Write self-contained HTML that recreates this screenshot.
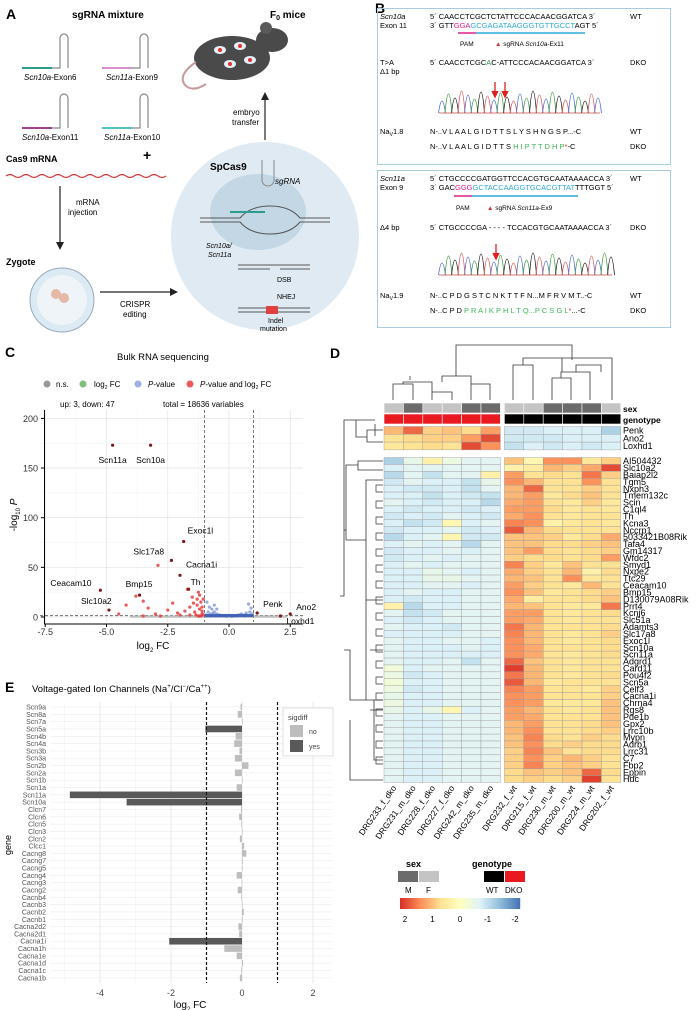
<!DOCTYPE html>
<html><head><meta charset="utf-8"><style>
html,body{margin:0;padding:0;background:#fff;}
svg{display:block;font-family:"Liberation Sans",sans-serif;}
</style></head><body>
<svg id="fig" width="696" height="1010" viewBox="0 0 696 1010" xmlns="http://www.w3.org/2000/svg">
<!-- ================= PANEL A ================= -->
<g>
<text x="6" y="19" font-size="14" font-weight="bold">A</text>
<text x="72" y="18" font-size="10" font-weight="bold">sgRNA mixture</text>
<g stroke-width="1.2" fill="none">
 <path d="M22 68 H60 V38 a4 4 0 0 1 8 0 V68" stroke="#888"/><line x1="22" y1="68" x2="52" y2="68" stroke="#2a9d8f" stroke-width="2"/>
 <path d="M102 68 H140 V38 a4 4 0 0 1 8 0 V68" stroke="#888"/><line x1="102" y1="68" x2="132" y2="68" stroke="#d98fd0" stroke-width="2"/>
 <path d="M22 128 H60 V98 a4 4 0 0 1 8 0 V128" stroke="#888"/><line x1="22" y1="128" x2="52" y2="128" stroke="#a0408f" stroke-width="2"/>
 <path d="M102 128 H140 V98 a4 4 0 0 1 8 0 V128" stroke="#888"/><line x1="102" y1="128" x2="132" y2="128" stroke="#4fc3c8" stroke-width="2"/>
</g>
<text x="24" y="80" font-size="8" font-style="italic">Scn10a<tspan font-style="normal">-Exon6</tspan></text>
<text x="106" y="80" font-size="8" font-style="italic">Scn11a<tspan font-style="normal">-Exon9</tspan></text>
<text x="22" y="140" font-size="8" font-style="italic">Scn10a<tspan font-style="normal">-Exon11</tspan></text>
<text x="104" y="140" font-size="8" font-style="italic">Scn11a<tspan font-style="normal">-Exon10</tspan></text>
<text x="6" y="162" font-size="9" font-weight="bold">Cas9 mRNA</text>
<text x="143" y="160" font-size="14" font-weight="bold">+</text>
<path d="M6 176 q4 -3 8 0 t8 0 t8 0 t8 0 t8 0 t8 0 t8 0 t8 0 t8 0 t8 0 t8 0 t8 0 t8 0 t8 0 t8 0 t8 0 t8 0 t8 0 t8 0 t8 0" stroke="#d43a3a" stroke-width="1.3" fill="none"/>
<line x1="60" y1="186" x2="60" y2="246" stroke="#222" stroke-width="1.2"/>
<path d="M56 242 L60 250 L64 242 Z" fill="#222"/>
<text x="68" y="205" font-size="8"><tspan x="76">mRNA</tspan><tspan x="68" dy="10">injection</tspan></text>
<text x="6" y="265" font-size="9" font-weight="bold">Zygote</text>
<circle cx="62" cy="300" r="32" fill="#dceaf3" stroke="#9ab"/>
<circle cx="62" cy="300" r="25" fill="#eef4f8"/>
<circle cx="56" cy="294" r="5" fill="#e6b8a8"/><circle cx="64" cy="298" r="5" fill="#e6b8a8"/>
<line x1="100" y1="292" x2="172" y2="292" stroke="#222" stroke-width="1.2"/>
<path d="M170 288 L178 292 L170 296 Z" fill="#222"/>
<text x="115" y="307" font-size="8"><tspan x="120">CRISPR</tspan><tspan x="123" dy="10">editing</tspan></text>
<circle cx="265" cy="236" r="94" fill="#dfeaf2"/>
<ellipse cx="258" cy="212" rx="48" ry="38" fill="#c3d7e5"/>
<text x="210" y="170" font-size="10" font-weight="bold">SpCas9</text>
<path d="M262 160 V180 a6 6 0 0 0 12 0 V160" stroke="#888" fill="none"/>
<text x="275" y="184" font-size="8" font-style="italic">sgRNA</text>
<path d="M200 218 H240 q10 -12 30 -12 q20 0 30 12 H330 M200 222 H240 q10 12 30 12 q20 0 30 -12 H330" stroke="#555" fill="none"/>
<line x1="230" y1="212" x2="265" y2="212" stroke="#2a9d8f" stroke-width="2"/>
<text x="208" y="248" font-size="7" font-style="italic"><tspan x="206">Scn10a/</tspan><tspan x="208" dy="9">Scn11a</tspan></text>
<line x1="238" y1="265" x2="310" y2="265" stroke="#555"/><line x1="238" y1="269" x2="270" y2="269" stroke="#555"/><line x1="280" y1="269" x2="310" y2="269" stroke="#555"/>
<text x="277" y="282" font-size="7">DSB</text>
<text x="277" y="299" font-size="7">NHEJ</text>
<line x1="238" y1="308" x2="310" y2="308" stroke="#555"/><line x1="238" y1="312" x2="310" y2="312" stroke="#555"/>
<rect x="266" y="306" width="12" height="8" fill="#e04040"/>
<text x="265" y="323" font-size="7"><tspan x="268">Indel</tspan><tspan x="260" dy="8">mutation</tspan></text>
<line x1="265" y1="140" x2="265" y2="96" stroke="#222" stroke-width="1.2"/>
<path d="M261 100 L265 92 L269 100 Z" fill="#222"/>
<text x="232" y="115" font-size="8"><tspan x="233">embryo</tspan><tspan x="232" dy="10">transfer</tspan></text>
<text x="270" y="18" font-size="10" font-weight="bold">F<tspan font-size="7" dy="2">0</tspan><tspan dy="-2"> mice</tspan></text>
<g>
 <ellipse cx="232" cy="58" rx="38" ry="22" fill="#4a4a4a"/>
 <ellipse cx="272" cy="40" rx="16" ry="12" fill="#4a4a4a"/>
 <circle cx="266" cy="28" r="6" fill="#5a5a5a"/>
 <path d="M196 62 q-20 14 -10 24 q8 6 20 -2" stroke="#c79a9a" stroke-width="2" fill="none"/>
 <ellipse cx="220" cy="50" rx="6" ry="4" fill="#e6eef6"/><ellipse cx="240" cy="46" rx="6" ry="4" fill="#e6eef6"/><ellipse cx="230" cy="64" rx="6" ry="4" fill="#e6eef6"/><ellipse cx="250" cy="60" rx="6" ry="4" fill="#e6eef6"/>
 <circle cx="220" cy="50" r="2" fill="#d33"/><circle cx="240" cy="46" r="2" fill="#d33"/><circle cx="230" cy="64" r="2" fill="#d33"/><circle cx="250" cy="60" r="2" fill="#d33"/>
</g>
</g>

<!-- ================= PANEL B ================= -->
<g font-size="7.5">
<text x="375" y="13" font-size="14" font-weight="bold">B</text>
<rect x="377.5" y="8.5" width="293" height="156" fill="none" stroke="#a8cde0"/>
<text x="380" y="19" font-style="italic">Scn10a</text>
<text x="380" y="28">Exon 11</text>
<text x="430" y="19">5´ CAACCTCGCTCTATTCCCACAACGGATCA 3´</text>
<text x="430" y="28">3´ GTT<tspan fill="#e0208a">GGA</tspan><tspan fill="#2fa8d8">GCGAGATAAGGGTGTTGCCT</tspan>AGT 5´</text>
<text x="630" y="19">WT</text>
<line x1="458" y1="33" x2="476" y2="33" stroke="#e0208a" stroke-width="1.5"/><line x1="476" y1="33" x2="585" y2="33" stroke="#2fa8d8" stroke-width="1.5"/>
<text x="460" y="46" font-size="6.5">PAM</text>
<text x="495" y="46" font-size="6.5"><tspan fill="#d33">▲</tspan> sgRNA <tspan font-style="italic">Scn10a</tspan>-Ex11</text>
<text x="380" y="65">T&gt;A</text>
<text x="380" y="74">Δ1 bp</text>
<text x="430" y="65">5´ CAACCTCGC<tspan fill="#2a9d5a">A</tspan>C-ATTCCCACAACGGATCA 3´</text>
<text x="630" y="65">DKO</text>
<g id="chrom1"></g>
<path d="M495 82 V95 M492 91 L495 97 L498 91 M505 82 V95 M502 91 L505 97 L508 91" stroke="#e02020" stroke-width="1.3" fill="#e02020"/>
<text x="380" y="134">Na<tspan font-size="5" dy="2">V</tspan><tspan dy="-2">1.8</tspan></text>
<text x="430" y="134">N-..V L A A L G I D T T S L Y S H N G S P...-C</text>
<text x="430" y="149">N-..V L A A L G I D T T S <tspan fill="#3cb45a">H I P T T D H P</tspan><tspan fill="#d33">*</tspan>-C</text>
<text x="630" y="134">WT</text>
<text x="630" y="149">DKO</text>

<rect x="377.5" y="170.5" width="293" height="157" fill="none" stroke="#a8cde0"/>
<text x="380" y="181" font-style="italic">Scn11a</text>
<text x="380" y="190">Exon 9</text>
<text x="430" y="181">5´ CTGCCCCGATGGTTCCACGTGCAATAAAACCA 3´</text>
<text x="430" y="190">3´ GAC<tspan fill="#e0208a">GGG</tspan><tspan fill="#2fa8d8">GCTACCAAGGTGCACGTTAT</tspan>TTTGGT 5´</text>
<text x="630" y="181">WT</text>
<line x1="454" y1="196" x2="472" y2="196" stroke="#e0208a" stroke-width="1.5"/><line x1="472" y1="196" x2="578" y2="196" stroke="#2fa8d8" stroke-width="1.5"/>
<text x="456" y="210" font-size="6.5">PAM</text>
<text x="487" y="210" font-size="6.5"><tspan fill="#d33">▲</tspan> sgRNA <tspan font-style="italic">Scn11a</tspan>-Ex9</text>
<text x="380" y="230">Δ4 bp</text>
<text x="430" y="230">5´ CTGCCCCGA - - - - TCCACGTGCAATAAAACCA 3´</text>
<text x="630" y="230">DKO</text>
<g id="chrom2"></g>
<path d="M496 244 V257 M493 253 L496 259 L499 253" stroke="#e02020" stroke-width="1.3" fill="#e02020"/>
<text x="380" y="298">Na<tspan font-size="5" dy="2">V</tspan><tspan dy="-2">1.9</tspan></text>
<text x="430" y="298">N-..C P D G S T C N K T T F N...M F R V M T..-C</text>
<text x="430" y="313">N-..C P D <tspan fill="#3cb45a">P R A I K P H L T Q...P C S G L</tspan><tspan fill="#d33">*</tspan>...-C</text>
<text x="630" y="298">WT</text>
<text x="630" y="313">DKO</text>
</g>

<!-- ================= PANEL C ================= -->
<g>
<text x="5" y="357" font-size="14" font-weight="bold">C</text>
<text x="117" y="360" font-size="9.5">Bulk RNA sequencing</text>
<g font-size="8">
 <circle cx="47" cy="384" r="3.5" fill="#999"/><text x="56" y="387">n.s.</text>
 <circle cx="83" cy="384" r="3.5" fill="#7cbf7c"/><text x="94" y="387">log<tspan font-size="5" dy="2">2</tspan><tspan dy="-2"> FC</tspan></text>
 <circle cx="138" cy="384" r="3.5" fill="#9fb2de"/><text x="148" y="387"><tspan font-style="italic">P</tspan>-value</text>
 <circle cx="190" cy="384" r="3.5" fill="#ea5a5a"/><text x="200" y="387"><tspan font-style="italic">P</tspan>-value and log<tspan font-size="5" dy="2">2</tspan><tspan dy="-2"> FC</tspan></text>
</g>
<text x="60" y="407" font-size="8">up:  3, down:  47</text>
<text x="163" y="407" font-size="8">total = 18636 variables</text>
<g id="volcano"></g>
</g>

<!-- ================= PANEL D ================= -->
<g>
<text x="330" y="358" font-size="14" font-weight="bold">D</text>
<g id="heatmap"></g>
</g>

<!-- ================= PANEL E ================= -->
<g>
<text x="5" y="692" font-size="14" font-weight="bold">E</text>
<text x="32" y="692" font-size="9.5">Voltage-gated Ion Channels (Na<tspan font-size="6" dy="-4">+</tspan><tspan dy="4">/Cl</tspan><tspan font-size="6" dy="-4">−</tspan><tspan dy="4">/Ca</tspan><tspan font-size="6" dy="-4">++</tspan><tspan dy="4">)</tspan></text>
<g id="barchart"></g>
</g>
</svg>
<script>
const NS='http://www.w3.org/2000/svg';
function mk(parent,tag,attrs,text){const e=document.createElementNS(NS,tag);for(const k in attrs)e.setAttribute(k,attrs[k]);if(text!==undefined)e.textContent=text;parent.appendChild(e);return e;}

/* ---------- Volcano data ---------- */
const volcanoXTicks=[-7.5,-5.0,-2.5,0.0,2.5];
const volcanoYTicks=[0,50,100,150,200];
const redFC=[-1.1,-1.2,-1.3,-1.15,-1.4,-1.5,-1.2,-1.6,-1.8,-2.1,-2.5,-3.0,-3.3,-4.2,-3.5,-1.05,-1.25,-1.35,-1.1,-1.7,-2.9,-3.8,-2.3,-1.45,-1.2,-1.6,-2.0,-2.8,-3.5,-4.5,-1.3,-1.1,-1.15,-1.25,-1.05];
const redP=[3,8,12,15,5,20,22,10,6,4,7,3,9,12,16,18,25,2,10,28,52,21,14,14,1,2,2,1,1,3,18,6,1,1,2];
const blueFC=[-0.9,-0.8,-0.7,-0.6,-0.5,-0.4,-0.85,-0.75,-0.6,-0.3,-0.95,-0.7,-0.2,0.2,0.4,0.5,0.6,0.7,0.8,0.9,0.85,0.3,-0.5,-0.65,0.1,-0.1,0.95,-0.55,-0.45,-0.8,-0.9,0.65];
const blueP=[15,10,8,5,3,2,5,3,12,1,2,1,1,1,2,3,2,4,13,9,5,1,8,4,0.5,0.5,3,1,1,1,1,1];
const labelGenes=['Scn11a','Scn10a','Exoc1l','Slc17a8','Cacna1i','Bmp15','Ceacam10','Slc10a2','Th','Penk','Ano2','Loxhd1'];
const labelFC=[-4.75,-3.2,-1.85,-2.35,-2.0,-3.65,-5.25,-4.9,-1.65,1.15,2.5,2.1];
const labelP=[173,173,76,57,42,22,27,7,28,4,3,1];

(function(){
 const g=document.getElementById('volcano');
 const x=v=>229+v*24.5, y=v=>617-v*0.993;
 const left=40,right=303,top=410,bottom=622;
 volcanoXTicks.forEach(t=>{const l=mk(g,'line',{x1:x(t),x2:x(t),y1:top,y2:bottom,stroke:'#e6e6e6','stroke-width':0.8});
 
 });
 [-6.25,-3.75,-1.25,1.25].forEach(t=>mk(g,'line',{x1:x(t),x2:x(t),y1:top,y2:bottom,stroke:'#f1f1f1','stroke-width':0.5}));
 volcanoYTicks.forEach(t=>{const l=mk(g,'line',{x1:left,x2:right,y1:y(t),y2:y(t),stroke:'#e6e6e6','stroke-width':0.8});
 
 });
 [25,75,125,175].forEach(t=>mk(g,'line',{x1:left,x2:right,y1:y(t),y2:y(t),stroke:'#f1f1f1','stroke-width':0.5}));
 [-1,1].forEach(t=>{const l=mk(g,'line',{x1:x(t),x2:x(t),y1:top,y2:bottom,stroke:'#555','stroke-dasharray':'3,2','stroke-width':0.8});
 
 });
 const h=mk(g,'line',{x1:left,x2:right,y1:y(1.3),y2:y(1.3),stroke:'#555','stroke-dasharray':'3,2','stroke-width':0.8});
 
 
 for(let v=-4;v<=2.4;v+=0.08){mk(g,'circle',{cx:x(v),cy:y(0.4),r:1.3,fill:'#aaa','fill-opacity':0.6});}
 blueFC.forEach((v,i)=>{const c=mk(g,'circle',{cx:x(v),cy:y(blueP[i]),r:1.6,fill:'#7f98d6','fill-opacity':0.8});
 
 });
 for(let v=-0.95;v<1;v+=0.05){mk(g,'circle',{cx:x(v),cy:y(1.5),r:1.6,fill:'#4060b8','fill-opacity':0.8});}
 redFC.forEach((v,i)=>{const c=mk(g,'circle',{cx:x(v),cy:y(redP[i]),r:1.6,fill:'#e83c3c','fill-opacity':0.85});
 
 });
 const lx=[-10,-8,4,-38,6,-14,-50,-28,2,6,6,6], ly=[18,18,-8,-6,-8,-8,-4,-6,-4,-6,-4,8];
 labelGenes.forEach((n,i)=>{const c=mk(g,'circle',{cx:x(labelFC[i]),cy:y(labelP[i]),r:1.6,fill:'#7a1a1a'});
 
 
 const t=mk(g,'text',{x:x(labelFC[i])+lx[i],y:y(labelP[i])+ly[i],'font-size':8.5,'text-anchor':(i<2?'middle':'start')},n);
 if(i<2)t.setAttribute('x',x(labelFC[i]));
 
 });
 mk(g,'line',{x1:44.5,x2:44.5,y1:top,y2:bottom+2,stroke:'#000','stroke-width':1});
 mk(g,'line',{x1:44,x2:right,y1:bottom+2,y2:bottom+2,stroke:'#000','stroke-width':1});
 volcanoYTicks.forEach(t=>{const tx=mk(g,'text',{x:38,y:y(t)+3.5,'font-size':9,'text-anchor':'end',fill:'#333'},String(t));
 
 
 mk(g,'line',{x1:41,x2:44,y1:y(t),y2:y(t),stroke:'#000'});});
 volcanoXTicks.forEach(t=>{const tx=mk(g,'text',{x:x(t),y:bottom+13,'font-size':9,'text-anchor':'middle',fill:'#333'},t.toFixed(1));
 
 
 mk(g,'line',{x1:x(t),x2:x(t),y1:bottom+2,y2:bottom+5,stroke:'#000'});});
 const xt=mk(g,'text',{x:153,y:bottom+27,'font-size':10,'text-anchor':'middle'});
 xt.innerHTML='log<tspan font-size="6" dy="3">2</tspan><tspan dy="-3"> FC</tspan>';
 
 
 const yt=mk(g,'text',{x:0,y:0,'font-size':10,'text-anchor':'middle',transform:'translate(17,515) rotate(-90)'});
 yt.innerHTML='-log<tspan font-size="6" dy="3">10</tspan><tspan dy="-3" font-style="italic"> P</tspan>';
 
 
})();

/* ---------- Chromatograms (decorative) ---------- */
(function(){
 const cols=['#3a9a3a','#4a6ad0','#e05050','#222'];
 function draw(id,x0,x1,base){const g=document.getElementById(id);let i=0;
  for(let x=x0;x<x1;x+=6.5){const h=12+((i*7)%11);const c=cols[(i*3+1)%4];
   mk(g,'path',{d:`M${x-3.5} ${base} Q${x} ${base-h*2} ${x+3.5} ${base}`,stroke:c,fill:'none','stroke-width':0.8});i++;}
  mk(g,'line',{x1:x0-3,x2:x1,y1:base,y2:base,stroke:'#c44','stroke-width':0.8});}
 draw('chrom1',442,600,113);draw('chrom2',442,612,275);
})();

/* ---------- Heatmap data ---------- */
const samples=['DRG233_f_dko','DRG231_m_dko','DRG228_f_dko','DRG227_f_dko','DRG242_m_dko','DRG235_m_dko','DRG232_f_wt','DRG215_f_wt','DRG230_m_wt','DRG200_m_wt','DRG224_m_wt','DRG202_f_wt'];
const sampleSex=['F','M','F','F','M','M','F','F','M','M','M','F'];
const sampleGenotype=['DKO','DKO','DKO','DKO','DKO','DKO','WT','WT','WT','WT','WT','WT'];
const topGenes=['Penk','Ano2','Loxhd1'];
const topValues=[
[1,1.6,0.8,0.9,0.7,1.2,-0.8,-0.8,-0.7,-0.7,-0.7,-1.1],
[0.6,0.7,0.8,0.8,1.2,1.8,-0.8,-0.8,-0.8,-0.7,-0.7,-0.7],
[0.5,0.6,0.7,0.6,1.8,1.3,-0.9,-0.7,-0.8,-0.7,-0.8,-0.7]];
const mainGenes=['AI504432','Slc10a2','Baiap2l2','Tgm5','Nxph3','Tmem132c','Scin','C1ql4','Th','Kcna3','Nccrp1','5033421B08Rik','Tafa4','Gm14317','Wfdc2','Smyd1','Nxpe2','Ttc29','Ceacam10','Bmp15','D130079A08Rik','Prrt4','Kcnj6','Slc51a','Adamts3','Slc17a8','Exoc1l','Scn10a','Scn11a','Adgrd1','Card11','Pou4f2','Scn5a','Celf3','Cacna1i','Chrna4','Rgs8','Pde1b','Gpx2','Lrrc10b','Mypn','Adrb1','Lrrc31','C7','Fbp2','Eppin','Hdc'];
const mainValues=[
[-1.1,-0.5,0.3,-0.4,-0.6,-0.6,0.9,0.2,1.3,1.3,0.5,0.8],
[-0.7,-0.6,-0.6,-0.6,-0.6,-0.6,0.3,0.4,1,0.8,1.1,1.8],
[-1,-0.6,-0.9,-0.6,-0.6,0.3,1.2,0.6,0.7,0.6,1.5,0.8],
[-0.8,-0.6,-0.7,-0.7,-0.9,-0.5,1.3,1,0.6,0.6,1.3,0.6],
[-0.7,-0.8,-0.8,-0.7,-0.9,-0.6,1,1.6,0.6,0.6,0.8,0.6],
[-0.7,-0.7,-0.9,-0.7,-0.8,-0.9,1,1.2,0.5,0.7,0.9,0.6],
[-0.6,-0.7,-0.8,-0.7,-0.7,-1,1.1,1.2,0.6,0.5,0.8,0.5],
[-0.7,-0.8,-0.7,-0.7,-0.8,-0.7,1.2,1.2,0.7,0.5,0.6,0.5],
[-0.8,-0.7,-0.8,-0.6,-0.7,-0.8,1.1,1.3,0.6,0.5,0.6,0.6],
[-0.7,-0.9,-0.8,0.2,-0.7,-0.6,1.4,1.3,0.3,0.5,0.6,0.5],
[-0.8,-0.7,-0.7,-0.6,-0.8,-0.7,1.7,1,0.7,0.6,0.6,0.6],
[-1,-0.7,-0.6,0.2,-0.8,-0.8,0.9,0.9,0.8,0.5,0.7,1.1],
[-0.7,-0.6,-0.7,-0.6,-1,-0.6,0.9,0.9,0.7,0.7,0.8,0.9],
[-0.8,-0.7,-0.7,-0.6,-0.7,-0.6,0.9,1.2,0.7,0.6,0.7,0.8],
[-0.8,-0.7,-0.6,-0.7,-0.6,-0.6,0.8,0.7,0.7,0.6,0.7,1.2],
[-0.7,-0.6,-0.7,-0.6,-0.6,-0.6,1.4,0.8,0.5,0.9,0.6,0.6],
[-0.7,-0.7,-0.5,-0.6,-0.7,-0.6,1.1,0.8,0.6,1,0.3,0.7],
[-0.7,-0.7,-0.5,-0.5,-0.6,-0.6,1,0.9,0.6,1.3,0.5,0.6],
[-0.7,-0.7,-0.6,-0.6,-0.7,-0.6,1.2,0.8,0.6,0.5,1,0.6],
[-0.7,-0.6,-0.7,-0.7,-0.6,-0.6,1.3,0.9,0.5,0.6,0.7,0.8],
[-0.7,-0.8,-0.7,-0.7,-0.6,-0.6,1.1,0.4,0.6,0.6,0.7,0.9],
[0.3,-1,-0.7,-0.7,-0.6,-0.6,1,0.9,0.6,0.5,0.5,1.5],
[-0.6,-0.9,-0.8,-0.6,-0.6,-0.6,1.2,1.2,0.6,0.5,0.6,0.7],
[-0.7,-0.8,-0.7,-0.6,-0.6,-0.6,1.2,1.1,0.6,0.5,0.6,0.6],
[-0.6,-0.7,-0.7,-0.8,-0.6,-0.6,1.5,1,0.6,0.6,0.6,0.7],
[-0.7,-0.7,-0.7,-0.7,-0.6,-0.6,1.4,1,0.6,0.5,0.6,0.8],
[-0.6,-0.7,-0.7,-0.6,-0.6,-0.7,1.3,1,0.6,0.5,0.6,0.7],
[-0.6,-0.7,-0.7,-0.7,-0.6,-0.7,1.3,1.1,0.6,0.6,0.6,0.7],
[-0.6,-0.7,-0.7,-0.7,-0.7,-0.7,1.3,1.1,0.6,0.5,0.6,0.7],
[-0.6,-0.7,-0.7,-0.6,-0.9,-0.6,1.6,0.9,0.6,0.5,0.6,0.6],
[-0.3,-0.7,-0.6,-0.6,-0.6,-0.6,1.9,1,0.6,0.5,0.6,0.6],
[-0.4,-0.8,-0.7,-0.6,-0.6,-0.6,1.5,1,0.6,0.5,0.6,0.7],
[-0.3,-0.7,-0.7,-0.6,-0.6,-0.6,1.7,1,0.5,0.6,0.6,0.6],
[-0.4,-0.8,-0.7,-0.6,-0.6,-0.6,1.4,1.2,0.6,0.6,0.5,0.8],
[-0.5,-0.7,-0.7,-0.6,-0.6,-0.6,1.3,1.2,0.6,0.6,0.6,0.8],
[-0.4,-0.7,-0.7,-0.6,-0.6,-0.6,1.3,1.2,0.5,0.5,0.5,0.9],
[-0.5,-0.7,-0.5,0.2,-0.7,-0.6,1.2,1,0.6,0.5,0.6,0.9],
[-0.6,-0.7,-0.7,-0.6,-0.6,-0.6,1.2,1.1,0.6,0.6,0.6,0.9],
[-0.6,-0.7,-0.7,-0.6,-0.6,-0.6,1,1.2,0.6,0.6,0.7,0.9],
[-0.6,-0.7,-0.7,-0.6,-0.6,-0.6,1,1.3,0.6,0.6,0.7,0.8],
[-0.6,-0.7,-0.7,-0.6,-0.6,-0.6,0.9,1.4,0.7,0.6,0.8,0.7],
[-0.6,-0.7,-0.7,-0.6,-0.6,-0.6,0.9,1.3,0.7,0.8,0.7,0.7],
[-0.6,-0.7,-0.7,-0.6,-0.6,-0.6,0.8,1.4,0.9,0.6,0.7,0.7],
[-0.6,-0.7,-0.7,-0.6,-0.6,-0.6,0.8,1.3,0.8,1,0.8,0.6],
[-0.6,-0.7,-0.7,-0.6,-0.6,-0.6,0.8,1.4,0.8,0.9,0.8,0.6],
[-0.6,-0.7,-0.7,-0.6,-0.6,-0.6,0.7,0.9,0.8,0.9,1.6,0.7],
[-0.6,-0.7,-0.7,-0.6,-0.6,-0.6,0.7,0.8,0.7,0.8,1.9,0.6]];
const colorScaleLabels=['2','1','0','-1','-2'];

(function(){
 const g=document.getElementById('heatmap');
 const stops=[[-2,[69,117,180]],[-1.333,[145,191,219]],[-0.667,[224,243,248]],[0,[255,255,191]],[0.667,[254,224,144]],[1.333,[252,141,89]],[2,[215,48,39]]];
 function col(v){v=Math.max(-2,Math.min(2,v));for(let i=0;i<stops.length-1;i++){const a=stops[i],b=stops[i+1];if(v<=b[0]){const t=(v-a[0])/(b[0]-a[0]);return 'rgb('+a[1].map((c,k)=>Math.round(c+(b[1][k]-c)*t)).join(',')+')';}}return 'rgb(215,48,39)';}
 const cw=19.4;
 const cx=j=>(j<6?384:388)+j*cw;
 const dpath='M393 400 V384 H413 V400 M403 384 V382 H432 V392 H452 V400 M432 392 V400 M442 382 V376 H471 V400 M471 384 H490 V400 M410 380 V376 M456 376 V360 M456 360 V345 H572 V360 M513 400 V365 H533 V400 M523 365 V358 H612 V400 M552 400 V378 H571 V400 M561 378 V372 H590 V400 M576 372 V365 H601 V372 M562 372 V358';
 const dp=mk(g,'path',{d:dpath,stroke:'#333',fill:'none','stroke-width':0.8});
 
 
 const rp=mk(g,'path',{d:'M383 430 H367 V442 H383 M375 436 V424 M367 437 H356 V420 H344 V596 H340 M344 596 V420 M356 420 H375 M383 461 H358 V470 H383 M358 465 H346 V540 M383 480 H366 V600 H383 M366 540 H346 M346 540 V530 H344 M366 600 V700 H383 M370 650 H383 M374 700 V760 H383 M370 710 H383 M366 700 H350 V650 H344 M350 720 V780 H383',stroke:'#333',fill:'none','stroke-width':0.8});
 
 
 for(let r=0;r<18;r++){mk(g,'path',{d:`M383 ${485+r*16} H376 V${492+r*16} H383`,stroke:'#333',fill:'none','stroke-width':0.7});}
 sampleSex.forEach((s,j)=>{const r=mk(g,'rect',{x:cx(j),y:403,width:cw,height:10,fill:s==='M'?'#6b6b6b':'#c4c4c4',stroke:'#fff','stroke-width':0.6});
 
 });
 sampleGenotype.forEach((s,j)=>{const r=mk(g,'rect',{x:cx(j),y:414,width:cw,height:10,fill:s==='WT'?'#000':'#e8191f',stroke:'#fff','stroke-width':0.6});
 
 });
 mk(g,'text',{x:623,y:412,'font-size':8.5,'font-weight':'bold'},'sex');
 mk(g,'text',{x:623,y:423,'font-size':8.5,'font-weight':'bold'},'genotype');
 const rh1=7.8, y1=426.5;
 topValues.forEach((row,i)=>{row.forEach((v,j)=>{const r=mk(g,'rect',{x:cx(j),y:y1+i*rh1,width:cw,height:rh1,fill:col(v),stroke:'#999','stroke-width':0.4});
  
  });
  const t=mk(g,'text',{x:623,y:y1+i*rh1+7,'font-size':9},topGenes[i]);
  
  });
 const rh2=6.915, y2=457.5;
 mainValues.forEach((row,i)=>{row.forEach((v,j)=>{const r=mk(g,'rect',{x:cx(j),y:y2+i*rh2,width:cw,height:rh2,fill:col(v),stroke:'#999','stroke-width':0.4});
  
  });
  const t=mk(g,'text',{x:623,y:y2+i*rh2+6.6,'font-size':9},mainGenes[i]);
  
  });
 samples.forEach((s,j)=>{const x=cx(j)+cw/2+3;const t=mk(g,'text',{x:0,y:0,'font-size':8.5,'text-anchor':'end',transform:`translate(${x},788) rotate(-55)`},s);
  
  });
 mk(g,'text',{x:406,y:867,'font-size':9,'font-weight':'bold'},'sex');
 mk(g,'rect',{x:398,y:871,width:20,height:11,fill:'#6b6b6b'});mk(g,'rect',{x:419,y:871,width:20,height:11,fill:'#c4c4c4'});
 mk(g,'text',{x:405,y:893,'font-size':8},'M');mk(g,'text',{x:426,y:893,'font-size':8},'F');
 mk(g,'text',{x:472,y:867,'font-size':9,'font-weight':'bold'},'genotype');
 mk(g,'rect',{x:484,y:871,width:20,height:11,fill:'#000'});mk(g,'rect',{x:505,y:871,width:20,height:11,fill:'#e8191f'});
 mk(g,'text',{x:486,y:893,'font-size':8},'WT');mk(g,'text',{x:505,y:893,'font-size':8},'DKO');
 for(let k=0;k<120;k++){mk(g,'rect',{x:400+k,y:898,width:1.2,height:11,fill:col(2-4*k/119)});}
 colorScaleLabels.forEach((l,k)=>{const t=mk(g,'text',{x:405+k*27.5,y:922,'font-size':8,'text-anchor':'middle'},l);
  
  });
})();

/* ---------- Bar chart data ---------- */
const barGenes=['Scn9a','Scn8a','Scn7a','Scn5a','Scn4b','Scn4a','Scn3b','Scn3a','Scn2b','Scn2a','Scn1b','Scn1a','Scn11a','Scn10a','Clcn7','Clcn6','Clcn5','Clcn3','Clcn2','Clcc1','Cacng8','Cacng7','Cacng5','Cacng4','Cacng3','Cacng2','Cacnb4','Cacnb3','Cacnb2','Cacnb1','Cacna2d2','Cacna2d1','Cacna1i','Cacna1h','Cacna1e','Cacna1d','Cacna1c','Cacna1b'];
const barValues=[-0.04,-0.12,0,-1.03,-0.18,-0.22,-0.07,-0.2,0.18,-0.2,0,-0.15,-4.85,-3.25,-0.03,-0.08,-0.02,0,-0.06,0.06,0.12,0.02,0,-0.15,-0.01,-0.12,-0.02,0,0.05,0.02,-0.1,-0.08,-2.05,-0.5,-0.15,0.03,-0.02,-0.06];
const barSig=['no','no','no','yes','no','no','no','no','no','no','no','no','yes','yes','no','no','no','no','no','no','no','no','no','no','no','no','no','no','no','no','no','no','yes','no','no','no','no','no'];
const barXTicks=[-4,-2,0,2];

(function(){
 const g=document.getElementById('barchart');
 const x=v=>242+v*35.5, step=7.32, y0=707;
 const L=50,R=332,T=702,B=983;
 mk(g,'rect',{x:L,y:T,width:R-L,height:B-T,fill:'#fff'});
 barXTicks.forEach(t=>{const l=mk(g,'line',{x1:x(t),x2:x(t),y1:T,y2:B,stroke:'#e4e4e4','stroke-width':0.8});
  
  });
 [-5,-3,-1,1].forEach(t=>mk(g,'line',{x1:x(t),x2:x(t),y1:T,y2:B,stroke:'#f0f0f0','stroke-width':0.5}));
 barGenes.forEach((n,i)=>{mk(g,'line',{x1:L,x2:R,y1:y0+i*step,y2:y0+i*step,stroke:'#ececec','stroke-width':0.6});});
 barGenes.forEach((n,i)=>{const v=barValues[i];const yc=y0+i*step;
  const b=mk(g,'rect',{x:Math.min(x(0),x(v)),y:yc-step*0.45,width:Math.max(0.6,Math.abs(x(v)-x(0))),height:step*0.9,fill:barSig[i]==='yes'?'#595959':'#bdbdbd'});
  
  
  const t=mk(g,'text',{x:46,y:yc+2.5,'font-size':7,'text-anchor':'end',fill:'#555'},n);
  
  });
 [-1,1].forEach(t=>{const l=mk(g,'line',{x1:x(t),x2:x(t),y1:T,y2:B,stroke:'#111','stroke-dasharray':'3,2','stroke-width':1.2});
  
  });
 barXTicks.forEach(t=>{const tx=mk(g,'text',{x:x(t),y:996,'font-size':9,'text-anchor':'middle',fill:'#444'},String(t));
  
  });
 const xt=mk(g,'text',{x:190,y:1008,'font-size':10,'text-anchor':'middle'});
 xt.innerHTML='log<tspan font-size="6" dy="3">2</tspan><tspan dy="-3"> FC</tspan>';
 
 
 const yt=mk(g,'text',{x:0,y:0,'font-size':9,'text-anchor':'middle',transform:'translate(11,845) rotate(-90)'},'gene');
 
 
 const lg=mk(g,'g',{});
 
 
 mk(lg,'rect',{x:283,y:708,width:50,height:48,fill:'#fff',stroke:'#ccc','stroke-width':0.6});
 mk(lg,'text',{x:288,y:720,'font-size':7.5,fill:'#444'},'sigdiff');
 mk(lg,'rect',{x:290,y:725,width:13,height:12,fill:'#bdbdbd'});
 mk(lg,'rect',{x:290,y:740,width:13,height:12,fill:'#595959'});
 mk(lg,'text',{x:309,y:734,'font-size':7,fill:'#444'},'no');
 mk(lg,'text',{x:309,y:749,'font-size':7,fill:'#444'},'yes');
})();
</script>
</body></html>
